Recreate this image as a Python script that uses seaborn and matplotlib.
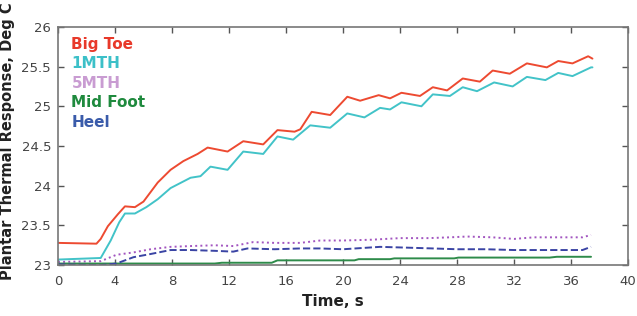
import matplotlib
import pandas as pd

matplotlib.use("Agg")
import matplotlib.pyplot as plt  # noqa: E402
import seaborn as sns  # noqa: E402

# --- values (time in s, temperature in deg C) ---
big_toe_t = [0, 2.7, 3.0, 3.5, 4.2, 4.7, 5.4, 6.0, 7.0, 7.9, 8.8, 9.8, 10.5, 11.9,
             13.0, 14.4, 15.4, 16.6, 17.0, 17.8, 19.1, 20.3, 21.2, 22.5, 23.3, 24.1,
             25.4, 26.3, 27.3, 28.4, 29.6, 30.5, 31.7, 32.9, 34.3, 35.1, 36.1, 37.2, 37.5]
big_toe_v = [23.28, 23.27, 23.33, 23.49, 23.64, 23.74, 23.73, 23.80, 24.04, 24.20, 24.31,
             24.40, 24.48, 24.43, 24.56, 24.52, 24.70, 24.68, 24.71, 24.93, 24.89, 25.12,
             25.07, 25.14, 25.10, 25.17, 25.13, 25.24, 25.20, 25.35, 25.31, 25.45, 25.41,
             25.54, 25.49, 25.57, 25.54, 25.63, 25.60]

mth1_t = [0, 3.0, 3.7, 4.3, 4.7, 5.4, 6.2, 7.0, 7.9, 9.3, 10.0, 10.7, 11.9, 13.0, 14.4,
          15.4, 16.5, 17.7, 19.1, 20.3, 21.5, 22.6, 23.3, 24.1, 25.5, 26.3, 27.5, 28.4,
          29.4, 30.6, 31.9, 32.9, 34.2, 35.1, 36.1, 37.4, 37.5]
mth1_v = [23.07, 23.09, 23.31, 23.54, 23.65, 23.65, 23.73, 23.83, 23.97, 24.10, 24.12,
          24.24, 24.20, 24.43, 24.40, 24.62, 24.58, 24.76, 24.73, 24.91, 24.86, 24.98,
          24.96, 25.05, 25.00, 25.15, 25.13, 25.24, 25.19, 25.30, 25.25, 25.37, 25.33,
          25.42, 25.38, 25.49, 25.49]

mth5_t = [0, 3.0, 4.1, 5.3, 6.5, 7.9, 9.3, 11.0, 12.3, 13.7, 15.2, 17.0, 18.4, 20.0,
          22.0, 24.0, 26.0, 27.5, 28.7, 30.5, 32.0, 33.4, 35.7, 36.8, 37.4]
mth5_v = [23.04, 23.05, 23.13, 23.16, 23.20, 23.23, 23.24, 23.25, 23.24, 23.29, 23.28,
          23.28, 23.31, 23.31, 23.32, 23.34, 23.34, 23.35, 23.36, 23.35, 23.33, 23.35,
          23.35, 23.35, 23.38]

mid_t = [0, 11.0, 11.5, 15.0, 15.4, 20.8, 21.1, 23.3, 23.6, 27.8, 28.1, 34.5, 35.0, 37.4]
mid_v = [23.02, 23.02, 23.03, 23.03, 23.06, 23.06, 23.075, 23.075, 23.085, 23.085,
         23.095, 23.095, 23.105, 23.105]

heel_t = [0, 3.0, 4.1, 5.3, 6.5, 7.9, 9.3, 11.0, 12.3, 13.3, 15.2, 17.0, 18.4, 20.0,
          22.6, 24.5, 26.3, 28.0, 30.0, 32.0, 34.0, 35.7, 36.8, 37.4]
heel_v = [23.01, 23.00, 23.02, 23.10, 23.14, 23.19, 23.19, 23.18, 23.17, 23.21, 23.20,
          23.21, 23.21, 23.20, 23.23, 23.22, 23.21, 23.20, 23.20, 23.19, 23.19, 23.19,
          23.19, 23.23]

labels = ["Big Toe", "1MTH", "5MTH", "Mid Foot", "Heel"]
x_ticks = list(range(0, 41, 4))
y_ticks = [23, 23.5, 24, 24.5, 25, 25.5, 26]

# line colour, legend text colour, dash style
styles = {
    "Big Toe": ("#ED4A31", "#E8392A", "-"),
    "1MTH": ("#42C3C8", "#3CC0C8", "-"),
    "5MTH": ("#A255C0", "#C99CD2", ":"),
    "Mid Foot": ("#2E8B4A", "#1F8A3E", "-"),
    "Heel": ("#3A44A4", "#3A5BAA", "--"),
}

series = [(big_toe_t, big_toe_v), (mth1_t, mth1_v), (mth5_t, mth5_v),
          (mid_t, mid_v), (heel_t, heel_v)]
df = pd.concat([pd.DataFrame({"time": t, "temp": v, "site": name})
                for name, (t, v) in zip(labels, series)], ignore_index=True)

sns.set_style("white")
plt.rcParams["font.family"] = ["DejaVu Sans"]

fig = plt.figure(figsize=(6.37, 3.16), dpi=100)
ax = fig.add_axes([0.091, 0.161, 0.895, 0.754])

for name in labels:
    c, _, ls = styles[name]
    sns.lineplot(data=df[df.site == name], x="time", y="temp", color=c,
                 linestyle=ls, lw=1.4, ax=ax, label=name, estimator=None, sort=False)

ax.set_xlim(0, 40)
ax.set_ylim(23, 26)
ax.set_xticks(x_ticks)
ax.set_yticks(y_ticks)
ax.set_yticklabels([f"{v:g}" for v in y_ticks])
ax.tick_params(direction="in", length=4, width=1, colors="#555555", labelcolor="#444444",
               labelsize=9.5, top=True, right=True, bottom=True, left=True)
ax.tick_params(axis="x", pad=7)
ax.tick_params(axis="y", pad=5)
for s in ax.spines.values():
    s.set_color("#777777")
    s.set_linewidth(1.2)

ax.set_xlabel("Time, s", fontsize=11, fontweight="bold", color="#222222")
ax.set_ylabel("Plantar Thermal Response, Deg C", fontsize=10.5, fontweight="bold",
              color="#222222")
ax.xaxis.set_label_coords(0.482, -0.12)
ax.yaxis.set_label_coords(-0.075, 0.52)

leg = ax.legend(loc="upper left", bbox_to_anchor=(0.013, 0.985), frameon=False,
                handlelength=0, handletextpad=0, labelspacing=0.3, borderaxespad=0,
                prop={"size": 11, "weight": "bold"},
                labelcolor=[styles[n][1] for n in labels])
for h in leg.legend_handles:
    h.set_visible(False)

fig.savefig("out.png", dpi=100)
